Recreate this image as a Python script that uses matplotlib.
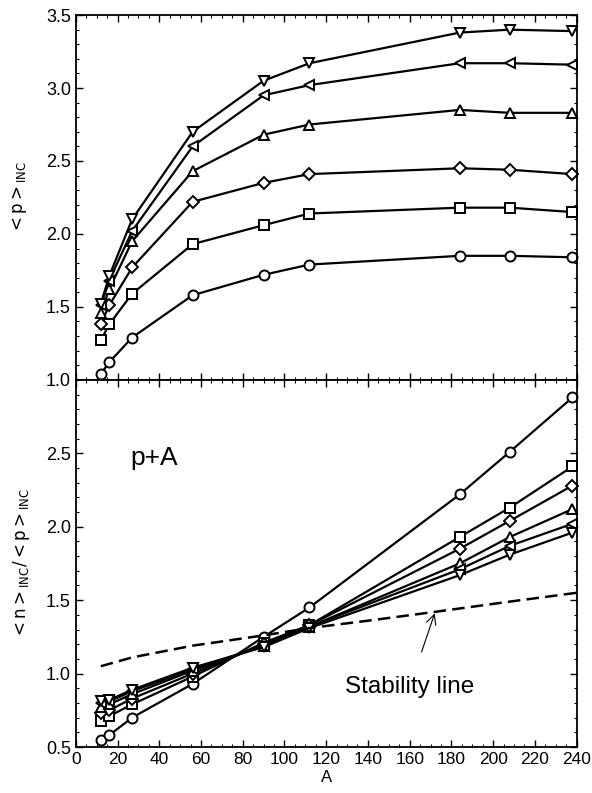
import numpy as np
import matplotlib
matplotlib.use("Agg")
import matplotlib.pyplot as plt
from matplotlib.ticker import MultipleLocator

plt.rcParams["font.family"] = ["Liberation Sans", "DejaVu Sans"]

# target mass numbers
A = [12, 16, 27, 56, 90, 112, 184, 208, 238]

# <p>_INC, one series per marker
p_circle   = [1.04, 1.12, 1.29, 1.58, 1.72, 1.79, 1.85, 1.85, 1.84]
p_square   = [1.27, 1.38, 1.59, 1.93, 2.06, 2.14, 2.18, 2.18, 2.15]
p_diamond  = [1.38, 1.51, 1.77, 2.22, 2.35, 2.41, 2.45, 2.44, 2.41]
p_tri_up   = [1.46, 1.62, 1.95, 2.43, 2.68, 2.75, 2.85, 2.83, 2.83]
p_tri_left = [1.51, 1.68, 2.02, 2.60, 2.95, 3.02, 3.17, 3.17, 3.16]
p_tri_down = [1.52, 1.71, 2.10, 2.70, 3.05, 3.17, 3.38, 3.40, 3.39]

# <n>_INC / <p>_INC
r_circle   = [0.55, 0.58, 0.70, 0.93, 1.25, 1.45, 2.22, 2.51, 2.88]
r_square   = [0.68, 0.71, 0.79, 0.98, 1.21, 1.33, 1.93, 2.13, 2.41]
r_diamond  = [0.73, 0.75, 0.83, 1.00, 1.20, 1.33, 1.85, 2.04, 2.28]
r_tri_up   = [0.77, 0.79, 0.86, 1.02, 1.19, 1.32, 1.75, 1.93, 2.12]
r_tri_left = [0.80, 0.81, 0.88, 1.03, 1.19, 1.32, 1.71, 1.87, 2.02]
r_tri_down = [0.81, 0.82, 0.89, 1.04, 1.18, 1.31, 1.67, 1.81, 1.96]

# stability line (N/Z of stable nuclei)
stab_A = [12, 27, 56, 90, 112, 140, 172, 208, 240]
stab_r = [1.05, 1.11, 1.19, 1.26, 1.31, 1.36, 1.42, 1.49, 1.55]

markers = ["o", "s", "D", "^", "<", "v"]
p_series = [p_circle, p_square, p_diamond, p_tri_up, p_tri_left, p_tri_down]
r_series = [r_circle, r_square, r_diamond, r_tri_up, r_tri_left, r_tri_down]

fig = plt.figure(figsize=(5.92, 7.93), dpi=100)
ax1 = fig.add_axes([0.128, 0.521, 0.846, 0.460])
ax2 = fig.add_axes([0.128, 0.058, 0.846, 0.463], sharex=ax1)


def draw_series(ax, series):
    for m, ys in zip(markers, series):
        ms = 6.0 if m == "D" else 7.2
        ax.plot(A, ys, marker=m, color="black", mfc="white", mec="black",
                ms=ms, mew=1.4, lw=1.6, clip_on=False)


draw_series(ax1, p_series)
draw_series(ax2, r_series)
ax2.plot(stab_A, stab_r, color="black", ls=(0, (5, 2.5)), lw=1.8)

ax1.set_xlim(0, 240)
ax1.set_ylim(1.0, 3.5)
ax2.set_ylim(0.5, 3.0)

ax1.xaxis.set_major_locator(MultipleLocator(20))
ax1.xaxis.set_minor_locator(MultipleLocator(5))
ax1.yaxis.set_major_locator(MultipleLocator(0.5))
ax1.yaxis.set_minor_locator(MultipleLocator(0.1))
ax2.yaxis.set_minor_locator(MultipleLocator(0.1))
ax2.set_yticks([0.5, 1.0, 1.5, 2.0, 2.5])

for ax in (ax1, ax2):
    ax.tick_params(which="both", direction="in", top=True, right=True)
    ax.tick_params(axis="y", labelsize=13)
    ax.tick_params(axis="x", labelsize=12.5)
    ax.tick_params(which="major", length=5, width=1)
    ax.tick_params(which="minor", length=2.5, width=0.8)
    for s in ax.spines.values():
        s.set_linewidth(1.3)
ax1.tick_params(labelbottom=False)
ax1.yaxis.set_major_formatter(plt.FormatStrFormatter("%.1f"))
ax2.yaxis.set_major_formatter(plt.FormatStrFormatter("%.1f"))

ax1.set_ylabel(r"$<\mathrm{p}>_{\mathrm{INC}}$", fontsize=12, labelpad=12)
ax2.set_ylabel(r"$<\mathrm{n}>_{\mathrm{INC}}/<\mathrm{p}>_{\mathrm{INC}}$",
               fontsize=12, labelpad=10)
ax2.set_xlabel("A", fontsize=12, labelpad=2)

ax2.text(26, 2.47, "p+A", fontsize=19, va="center", ha="left")
ax2.annotate("Stability line", xy=(172, 1.41), xytext=(160, 0.91),
             fontsize=17.5, ha="center", va="center",
             arrowprops=dict(arrowstyle="->", color="black", lw=0.8,
                             shrinkA=16, shrinkB=0))

fig.savefig("out.png", dpi=100)
